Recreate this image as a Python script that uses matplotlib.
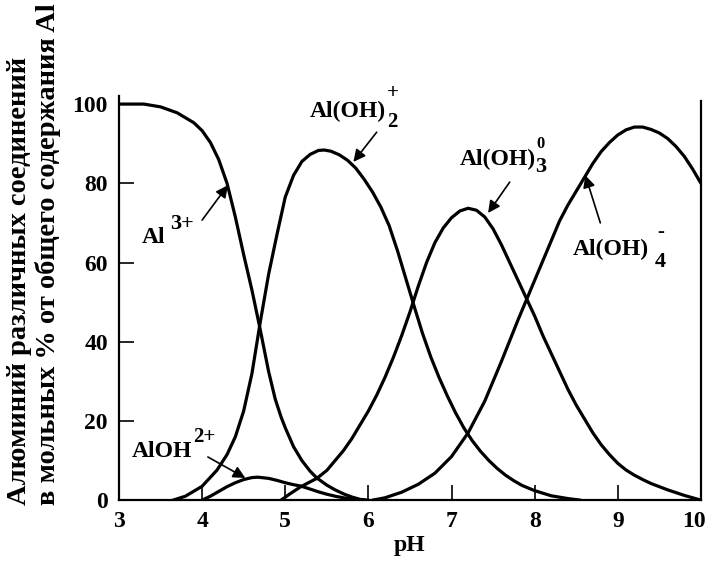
import matplotlib
matplotlib.use("Agg")
import matplotlib.pyplot as plt
from matplotlib.transforms import ScaledTranslation

plt.rcParams['font.family'] = ['Liberation Serif', 'DejaVu Serif']
plt.rcParams['font.weight'] = 'bold'
plt.rcParams['axes.labelweight'] = 'bold'

# species fractions (% of total Al) vs pH
al3_ph = [3.0, 3.3, 3.5, 3.7, 3.9, 4.0, 4.1, 4.2, 4.3, 4.4, 4.5, 4.6, 4.7,
          4.8, 4.88, 4.95, 5.0, 5.1, 5.2, 5.3, 5.38, 5.5, 5.6, 5.7, 5.8,
          5.9, 6.0]
al3_val = [100, 100, 99.3, 97.8, 95.3, 93.3, 90.3, 86, 80, 71.5, 62, 53, 43,
           32.5, 25.5, 21, 18.3, 13.5, 10, 7.3, 5.6, 3.8, 2.6, 1.6, 0.8,
           0.2, 0]

aloh_ph = [4.0, 4.1, 4.2, 4.3, 4.4, 4.5, 4.6, 4.67, 4.8, 4.9, 5.0, 5.1, 5.18,
           5.3, 5.4, 5.5, 5.6, 5.7, 5.8, 5.95]
aloh_val = [0, 1, 2.2, 3.4, 4.4, 5.2, 5.7, 5.8, 5.5, 5, 4.4, 3.9, 3.6,
            2.8, 2.1, 1.5, 1.0, 0.6, 0.3, 0]

aloh2_ph = [3.65, 3.8, 4.0, 4.18, 4.3, 4.4, 4.5, 4.6, 4.7, 4.8, 4.9, 5.0, 5.1,
            5.2, 5.3, 5.4, 5.47, 5.55, 5.65, 5.75, 5.85, 5.95, 6.05, 6.15,
            6.25, 6.35, 6.45, 6.55, 6.65, 6.75, 6.85, 6.95, 7.05, 7.15, 7.25,
            7.35, 7.45, 7.55, 7.65, 7.75, 7.85, 8.0, 8.2, 8.4, 8.55]
aloh2_val = [0, 1, 3.5, 7.6, 11.5, 16, 22.5, 32, 45, 57, 67, 76.5, 82,
             85.5, 87.3, 88.3, 88.4, 88.1, 87.2, 85.8, 83.8, 81, 77.8, 74,
             69.3, 63, 56, 49, 42.2, 36.2, 31, 26.3, 22, 18.2, 15, 12.3,
             10, 8, 6.3, 4.9, 3.7, 2.4, 1.1, 0.4, 0]

aloh3_ph = [4.95, 5.05, 5.18, 5.38, 5.5, 5.6, 5.7, 5.8, 5.9, 6.0, 6.1, 6.2,
            6.3, 6.4, 6.5, 6.6, 6.7, 6.8, 6.9, 7.0, 7.1, 7.2, 7.3, 7.4,
            7.5, 7.6, 7.7, 7.8, 7.9, 8.0, 8.1, 8.2, 8.3, 8.4, 8.5, 8.6,
            8.7, 8.8, 8.9, 9.0, 9.1, 9.2, 9.3, 9.4, 9.5, 9.6, 9.7, 9.8,
            9.9, 10.0]
aloh3_val = [0, 1.5, 3.3, 5.5, 7.5, 10, 12.5, 15.5, 19, 22.5, 26.5, 31,
             36, 41.5, 47.5, 54, 60, 65, 68.7, 71.3, 73, 73.7, 73.2, 71.5,
             68.5, 64.5, 60, 55.5, 51, 46.5, 41.5, 37, 32.5, 28, 24, 20.5,
             17, 14, 11.5, 9.3, 7.6, 6.3, 5.2, 4.2, 3.4, 2.6, 1.9, 1.2,
             0.6, 0]

aloh4_ph = [6.05, 6.2, 6.4, 6.6, 6.8, 7.0, 7.2, 7.4, 7.6, 7.8, 7.9, 8.0,
            8.1, 8.2, 8.3, 8.4, 8.5, 8.6, 8.7, 8.8, 8.9, 9.0, 9.1, 9.2,
            9.3, 9.4, 9.5, 9.6, 9.7, 9.8, 9.9, 10.0]
aloh4_val = [0, 0.6, 2, 4, 6.8, 11, 17, 25, 35, 45.5, 50.5, 55.5,
             60.5, 65.5, 70.5, 74.5, 78, 81.5, 85, 88, 90.3, 92.2, 93.5, 94.2,
             94.2, 93.6, 92.7, 91.3, 89.3, 86.8, 83.6, 80]

x_ticks = [3, 4, 5, 6, 7, 8, 9, 10]
y_ticks = [0, 20, 40, 60, 80, 100]

# label text: main part, then (text, size, dx px, dy px) for sub/superscripts
species_labels = [
    ('Al', [('3+', 16, 4, 14)]),
    ('Al(OH)', [('2', 15, 1, -10), ('+', 15, 1, 19)]),
    ('Al(OH)', [('3', 16, -1, -7), ('0', 12, 0, 17)]),
    ('Al(OH)', [('4', 16, 6, -12), ('-', 15, 8, 18)]),
    ('AlOH', [('2+', 15, 1, 15)]),
]
label_pos = [(3.28, 64.9), (5.30, 96.7), (7.10, 84.6), (8.46, 61.9), (3.16, 10.9)]
arrow_tail = [(4.0, 70.7), (6.10, 92.9), (7.70, 80.3), (8.79, 70.0), (4.07, 10.9)]
arrow_tip = [(4.31, 79.5), (5.82, 85.4), (7.44, 72.5), (8.61, 82.0), (4.52, 5.6)]

fig = plt.figure(figsize=(7.08, 5.69), dpi=100)
ax = fig.add_axes([0.168, 0.121, 0.822, 0.710])

for xs, ys in [(al3_ph, al3_val), (aloh_ph, aloh_val), (aloh2_ph, aloh2_val),
               (aloh3_ph, aloh3_val), (aloh4_ph, aloh4_val)]:
    ax.plot(xs, ys, color='black', lw=2.3, solid_capstyle='round',
            solid_joinstyle='round')

ax.set_xlim(3, 10)
ax.set_ylim(0, 102)
ax.set_xticks(x_ticks)
ax.set_yticks(y_ticks)
ax.tick_params(direction='in', length=11, width=1.2, labelsize=17, pad=8)
ax.spines['top'].set_visible(False)
for s in ['left', 'bottom', 'right']:
    ax.spines[s].set_linewidth(1.6)
ax.spines['right'].set_bounds(0, 100.8)
ax.set_xlabel('pH', fontsize=17, fontweight='bold', labelpad=2)

# last x label sits a bit left of its tick, as in the original
last = ax.get_xticklabels()[-1]
last.set_transform(last.get_transform() + ScaledTranslation(-5 / 72, 0, fig.dpi_scale_trans))

# species labels and arrows
mains = []
for (main, parts), pos in zip(species_labels, label_pos):
    mains.append(ax.text(pos[0], pos[1], main, fontsize=17, ha='left', va='baseline'))
for tail, tip in zip(arrow_tail, arrow_tip):
    ax.annotate('', xy=tip, xytext=tail,
                arrowprops=dict(arrowstyle='-|>', color='black', lw=1.2,
                                mutation_scale=18, shrinkA=0, shrinkB=0))

fig.canvas.draw()
renderer = fig.canvas.get_renderer()
for t, (main, parts), pos in zip(mains, species_labels, label_pos):
    w = t.get_window_extent(renderer).width
    for s, size, dx, dy in parts:
        off = ScaledTranslation((w + dx) / fig.dpi, dy / fig.dpi, fig.dpi_scale_trans)
        ax.text(pos[0], pos[1], s, fontsize=size, ha='left', va='baseline',
                transform=ax.transData + off)

fig.text(0.028, 0.1125, 'Алюминий различных соединений', rotation=90,
         fontsize=20.5, ha='center', va='bottom')
fig.text(0.068, 0.1125, 'в мольных % от общего содержания Al', rotation=90,
         fontsize=20.5, ha='center', va='bottom')

fig.savefig('out.png', dpi=100)
